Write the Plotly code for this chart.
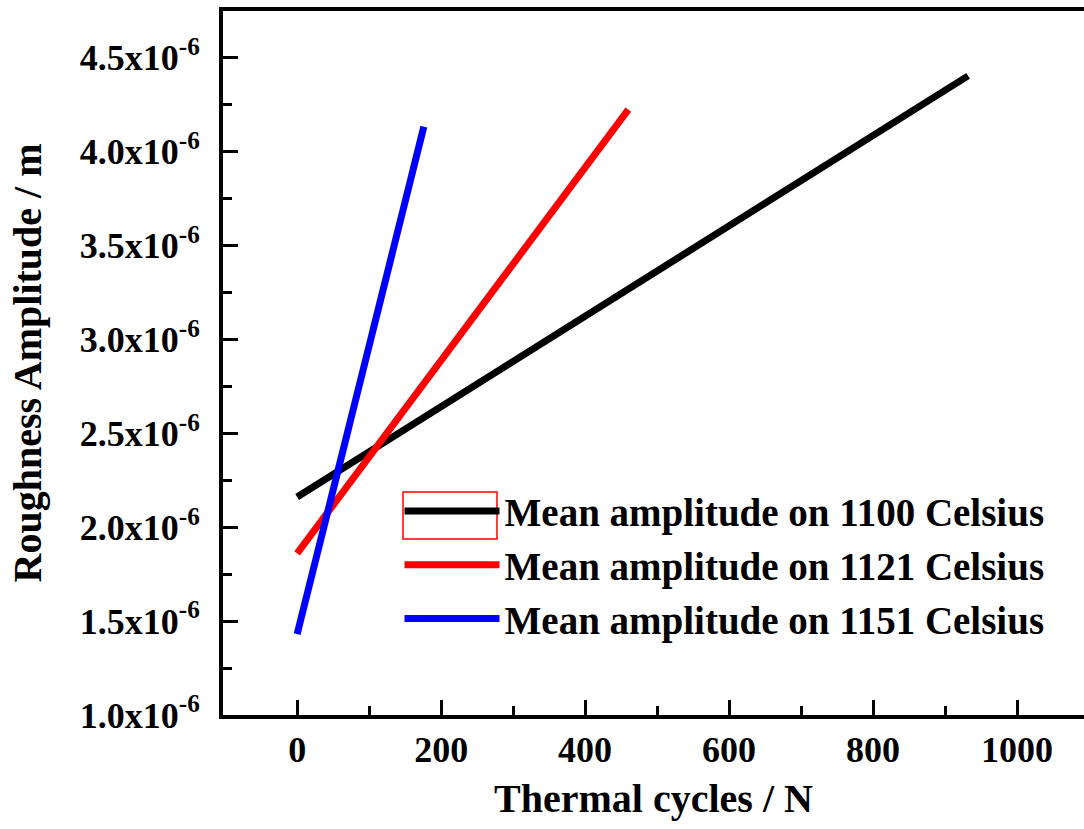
import plotly.graph_objects as go

cycles_1100 = [0, 932]
amp_1100 = [2.16e-6, 4.40e-6]
cycles_1121 = [0, 460]
amp_1121 = [1.86e-6, 4.22e-6]
cycles_1151 = [0, 176]
amp_1151 = [1.43e-6, 4.13e-6]

names = ["Mean amplitude on 1100 Celsius", "Mean amplitude on 1121 Celsius", "Mean amplitude on 1151 Celsius"]
colors = ["#000000", "#ff0000", "#0000ff"]

ytick_vals = [1.0e-6, 1.5e-6, 2.0e-6, 2.5e-6, 3.0e-6, 3.5e-6, 4.0e-6, 4.5e-6]
ytick_text = ["1.0x10<sup>-6</sup>", "1.5x10<sup>-6</sup>", "2.0x10<sup>-6</sup>", "2.5x10<sup>-6</sup>",
              "3.0x10<sup>-6</sup>", "3.5x10<sup>-6</sup>", "4.0x10<sup>-6</sup>", "4.5x10<sup>-6</sup>"]
xtick_vals = [0, 200, 400, 600, 800, 1000]

FONT = "Liberation Serif"

fig = go.Figure()
for xs, ys, n, c in [(cycles_1100, amp_1100, names[0], colors[0]),
                     (cycles_1121, amp_1121, names[1], colors[1]),
                     (cycles_1151, amp_1151, names[2], colors[2])]:
    fig.add_trace(go.Scatter(x=xs, y=ys, mode="lines", name=n,
                             line=dict(color=c, width=7)))

fig.update_layout(
    width=1084, height=829,
    margin=dict(l=223, r=0, t=11, b=114),
    paper_bgcolor="white", plot_bgcolor="white",
    font=dict(family=FONT, size=36, color="black", weight="bold"),
    showlegend=True,
    legend=dict(x=0.205, y=0.335, xanchor="left", yanchor="top",
                bgcolor="rgba(0,0,0,0)", itemwidth=95,
                font=dict(family=FONT, size=39, color="black", weight="bold"),
                tracegroupgap=0),
)
fig.update_xaxes(
    range=[-103, 1093], showgrid=False, zeroline=False,
    showline=True, linecolor="black", linewidth=4, mirror=True,
    ticks="inside", ticklen=15, tickwidth=3, tickcolor="black",
    tickvals=xtick_vals,
    minor=dict(tickvals=[100, 300, 500, 700, 900], ticks="inside", ticklen=9, tickwidth=3, tickcolor="black"),
    tickfont=dict(family=FONT, size=36, color="black", weight="bold"),
    title=dict(text="Thermal cycles / N", font=dict(family=FONT, size=40, weight="bold"), standoff=16),
)
fig.update_yaxes(
    range=[1.0e-6, 4.745e-6], showgrid=False, zeroline=False,
    showline=True, linecolor="black", linewidth=4, mirror=False,
    ticks="inside", ticklen=15, tickwidth=3, tickcolor="black",
    tickvals=ytick_vals, ticktext=ytick_text,
    minor=dict(tickvals=[1.25e-6, 1.75e-6, 2.25e-6, 2.75e-6, 3.25e-6, 3.75e-6, 4.25e-6],
               ticks="inside", ticklen=9, tickwidth=3, tickcolor="black"),
    tickfont=dict(family=FONT, size=36, color="black", weight="bold"),
    ticklabelstandoff=12,
    title=dict(text="Roughness Amplitude / m", font=dict(family=FONT, size=40, weight="bold"), standoff=27),
)
# selection box artifact around first legend sample
fig.add_shape(type="rect", xref="paper", yref="paper",
              x0=(403 - 223) / 861, x1=(497 - 223) / 861,
              y0=(715 - 539) / 704, y1=(715 - 492) / 704,
              line=dict(color="#ff0000", width=1.5))

fig.write_html("out.html")
